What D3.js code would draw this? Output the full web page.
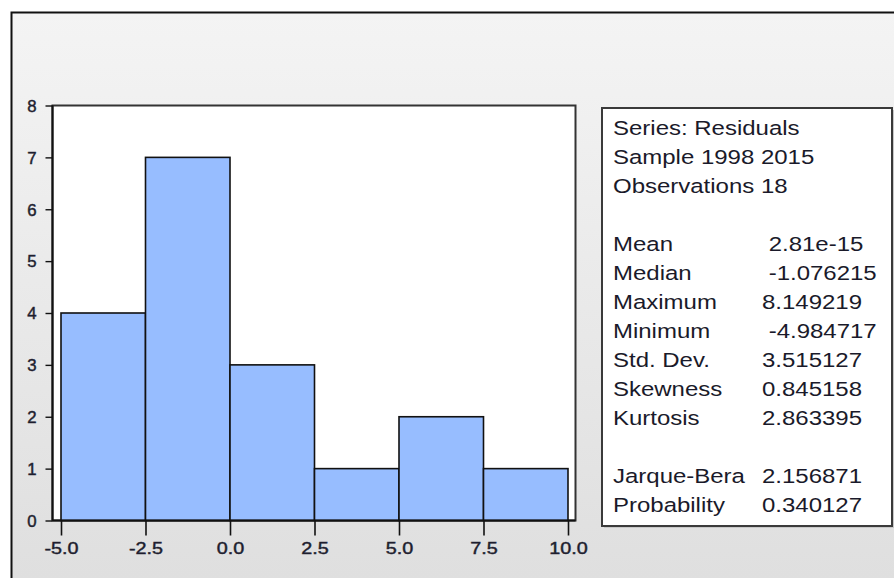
<!DOCTYPE html>
<html>
<head>
<meta charset="utf-8">
<script src="https://cdn.jsdelivr.net/npm/d3@7"></script>
<style>
  body { margin: 0; background: #fff; }
  svg text { font-family: "Liberation Sans", Arial, sans-serif; fill: #1a1a2a; }
  .tick text { stroke: #2a2a3a; stroke-width: 0.45px; }
</style>
</head>
<body>
<div class="histChart"></div>
<script>
// histogram bins (lower edge, upper edge, count)
var binLo = [-5.0, -2.5, 0.0, 2.5, 5.0, 7.5];
var binHi = [-2.5, 0.0, 2.5, 5.0, 7.5, 10.0];
var counts = [4, 7, 3, 1, 2, 1];
var xTicks = [-5.0, -2.5, 0.0, 2.5, 5.0, 7.5, 10.0];
var yTicks = [0, 1, 2, 3, 4, 5, 6, 7, 8];

// statistics panel
var headLines = ["Series: Residuals", "Sample 1998 2015", "Observations 18"];
var statNames = ["Mean", "Median", "Maximum", "Minimum", "Std. Dev.", "Skewness", "Kurtosis"];
var statValues = [" 2.81e-15", " -1.076215", "8.149219", " -4.984717", "3.515127", "0.845158", "2.863395"];
var testNames = ["Jarque-Bera", "Probability"];
var testValues = ["2.156871", "0.340127"];

function init() {
  var w = 894, h = 578;

  var svg = d3.select(".histChart").append("svg")
    .attr("width", w)
    .attr("height", h);

  var defs = svg.append("defs");
  var grad = defs.append("linearGradient")
    .attr("id", "bg")
    .attr("x1", 0).attr("y1", 0).attr("x2", 0).attr("y2", 1);
  grad.append("stop").attr("offset", "0%").attr("stop-color", "#f4f4f4");
  grad.append("stop").attr("offset", "100%").attr("stop-color", "#dfdfdf");

  // window background + frame
  svg.append("rect")
    .attr("x", 11).attr("y", 12)
    .attr("width", w - 11).attr("height", h - 12)
    .attr("fill", "url(#bg)");
  svg.append("path")
    .attr("d", "M11.5," + h + " V12.5 H" + w)
    .attr("fill", "none")
    .attr("stroke", "#111")
    .attr("stroke-width", 2);

  var xScale = d3.scaleLinear().domain([-5, 10]).range([61, 568]);
  var yScale = d3.scaleLinear().domain([0, 8]).range([520.5, 105.5]);

  var plotLeft = 52.5, plotRight = 575.5;

  // plot area
  svg.append("rect")
    .attr("x", plotLeft).attr("y", yScale(8))
    .attr("width", plotRight - plotLeft)
    .attr("height", yScale(0) - yScale(8))
    .attr("fill", "#fff")
    .attr("stroke", "#333")
    .attr("stroke-width", 2);

  // bars
  svg.selectAll(".bar")
    .data(counts)
    .enter()
    .append("rect")
    .attr("class", "bar")
    .attr("x", function(d, i) { return xScale(binLo[i]); })
    .attr("y", function(d) { return yScale(d); })
    .attr("width", function(d, i) { return xScale(binHi[i]) - xScale(binLo[i]); })
    .attr("height", function(d) { return yScale(0) - yScale(d); })
    .attr("fill", "#97bdff")
    .attr("stroke", "#111")
    .attr("stroke-width", 1.6);

  // axes (plain hyphen for the minus sign, like the original)
  var fmt1 = function(d) { return d.toFixed(1); };

  var xAxis = d3.axisBottom(xScale)
    .tickValues(xTicks)
    .tickSize(15)
    .tickSizeOuter(0)
    .tickPadding(4)
    .tickFormat(fmt1);

  var yAxis = d3.axisLeft(yScale)
    .tickValues(yTicks)
    .tickSize(7)
    .tickSizeOuter(0)
    .tickPadding(8)
    .tickFormat(function(d) { return String(d); });

  var gx = svg.append("g")
    .attr("transform", "translate(0," + yScale(0) + ")")
    .call(xAxis);
  gx.attr("font-size", null).attr("font-family", null);
  gx.select(".domain")
    .attr("d", "M" + plotLeft + ",0H" + plotRight)
    .attr("stroke", "#111").attr("stroke-width", 2);
  gx.selectAll(".tick line").attr("stroke", "#111").attr("stroke-width", 1.6);
  gx.selectAll(".tick text")
    .style("font-size", "16.5px")
    .attr("y", 0).attr("dy", 0)
    .attr("transform", "translate(0,33.5) scale(1.2,1)");

  var gy = svg.append("g")
    .attr("transform", "translate(" + plotLeft + ",0)")
    .call(yAxis);
  gy.attr("font-size", null).attr("font-family", null);
  gy.select(".domain")
    .attr("d", "M0," + yScale(0) + "V" + yScale(8))
    .attr("stroke", "#111").attr("stroke-width", 2);
  gy.selectAll(".tick line").attr("stroke", "#111").attr("stroke-width", 1.4);
  gy.selectAll(".tick text")
    .style("font-size", "16px")
    .attr("x", 0).attr("dy", "0.36em")
    .attr("transform", "translate(-16,0) scale(1.05,1)");

  // statistics box
  var bx = 602, by = 108, bw = 290, bh = 418;
  svg.append("rect")
    .attr("x", bx + 2).attr("y", by + 2)
    .attr("width", bw).attr("height", bh)
    .attr("fill", "#c8c8c8");
  svg.append("rect")
    .attr("x", bx).attr("y", by)
    .attr("width", bw).attr("height", bh)
    .attr("fill", "#fff")
    .attr("stroke", "#3a3a3a")
    .attr("stroke-width", 2);

  var lineH = 29.0;
  var textX = 613, valX = 762;
  var rows = [];
  headLines.forEach(function(t, i) { rows.push({ row: i, name: t, val: "" }); });
  statNames.forEach(function(t, i) { rows.push({ row: 4 + i, name: t, val: statValues[i] }); });
  testNames.forEach(function(t, i) { rows.push({ row: 12 + i, name: t, val: testValues[i] }); });

  var stats = svg.append("g");
  rows.forEach(function(r) {
    var y = 135 + r.row * lineH;
    stats.append("text")
      .attr("transform", "translate(" + textX + "," + y + ") scale(1.17,1)")
      .style("font-size", "20.5px")
      .style("white-space", "pre")
      .text(r.name);
    if (r.val) {
      stats.append("text")
        .attr("transform", "translate(" + valX + "," + y + ") scale(1.17,1)")
        .style("font-size", "20.5px")
        .style("white-space", "pre")
        .text(r.val);
    }
  });
}
window.onload = init;
</script>
</body>
</html>
